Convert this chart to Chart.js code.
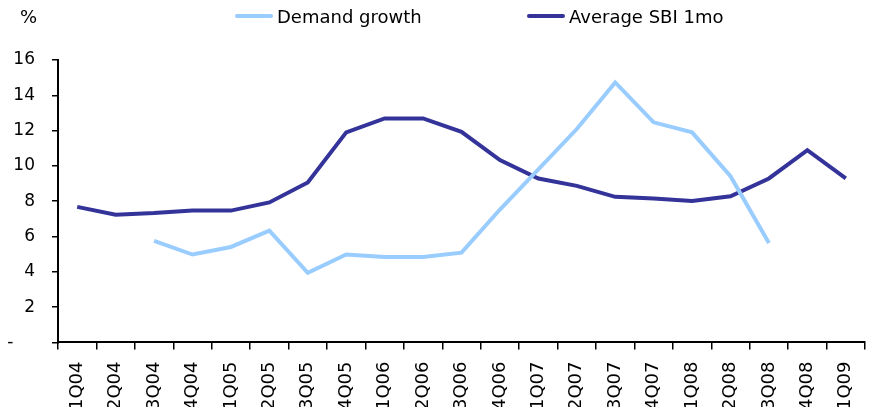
<!DOCTYPE html>
<html>
<head>
<meta charset="utf-8">
<script src="https://cdn.jsdelivr.net/npm/chart.js@4/dist/chart.umd.min.js"></script>
<style>
  html, body { margin: 0; padding: 0; background: #fff; overflow: hidden; }
  #wrap { position: relative; width: 873px; height: 422px; }
</style>
</head>
<body>
<div id="wrap"><canvas id="myChart"></canvas></div>
<script>
// data
const quarters = ['1Q04', '2Q04', '3Q04', '4Q04', '1Q05', '2Q05', '3Q05', '4Q05', '1Q06', '2Q06', '3Q06',
  '4Q06', '1Q07', '2Q07', '3Q07', '4Q07', '1Q08', '2Q08', '3Q08', '4Q08', '1Q09'];
const demandGrowth = [null, null, 5.75, 4.98, 5.41, 6.34, 3.95, 4.98, 4.84, 4.84, 5.09,
  7.53, 9.8, 12.09, 14.73, 12.47, 11.9, 9.42, 5.64, null, null];
const avgSbi = [7.68, 7.24, 7.33, 7.47, 7.47, 7.93, 9.06, 11.9, 12.69, 12.69, 11.93,
  10.33, 9.29, 8.87, 8.25, 8.15, 8.02, 8.28, 9.29, 10.89, 9.29];
const yTicks = [0, 2, 4, 6, 8, 10, 12, 14, 16];

const font = 'DejaVu Sans';
const lightBlue = '#99ccff';
const navy = '#333399';

// legend + unit label drawn by hand
const extras = {
  id: 'extras',
  afterDraw(chart) {
    const ctx = chart.ctx;
    ctx.save();
    ctx.fillStyle = '#000';
    ctx.font = '18px ' + font;
    ctx.textBaseline = 'middle';
    ctx.fillText('%', 20, 18);

    const items = [
      { x: 235, text: 'Demand growth', color: lightBlue },
      { x: 527, text: 'Average SBI 1mo', color: navy }
    ];
    items.forEach(it => {
      ctx.strokeStyle = it.color;
      ctx.lineWidth = 4;
      ctx.lineCap = 'round';
      ctx.beginPath();
      ctx.moveTo(it.x + 2, 16);
      ctx.lineTo(it.x + 36, 16);
      ctx.stroke();
      ctx.fillStyle = '#000';
      ctx.fillText(it.text, it.x + 42, 18);
    });
    ctx.restore();
  }
};

const data = {
  labels: quarters,
  datasets: [
    {
      label: 'Demand growth',
      data: demandGrowth,
      borderColor: lightBlue,
      backgroundColor: lightBlue,
      borderWidth: 4,
      pointRadius: 0,
      tension: 0,
      spanGaps: false
    },
    {
      label: 'Average SBI 1mo',
      data: avgSbi,
      borderColor: navy,
      backgroundColor: navy,
      borderWidth: 4,
      pointRadius: 0,
      tension: 0
    }
  ]
};

const config = {
  type: 'line',
  data,
  options: {
    responsive: true,
    maintainAspectRatio: false,
    animation: false,
    layout: { padding: { left: 0, right: 8, top: 60, bottom: 0 } },
    plugins: {
      legend: { display: false },
      tooltip: { enabled: false }
    },
    scales: {
      x: {
        offset: true,
        afterFit(axis) { axis.paddingLeft = 0; axis.paddingRight = 0; },
        grid: { offset: true, drawOnChartArea: false, drawTicks: true, tickLength: 7, color: '#000', lineWidth: 1.5 },
        border: { color: '#000', width: 2 },
        ticks: {
          color: '#000',
          font: { family: font, size: 18 },
          minRotation: 90,
          maxRotation: 90,
          padding: 12,
          autoSkip: false
        }
      },
      y: {
        min: 0,
        max: 16,
        afterBuildTicks(axis) { axis.ticks = yTicks.map(v => ({ value: v })); },
        afterFit(axis) { axis.width = 58; },
        grid: { drawOnChartArea: false, drawTicks: true, tickLength: 6, color: '#000', lineWidth: 1.5 },
        border: { color: '#000', width: 2 },
        ticks: {
          color: '#000',
          font: { family: font, size: 17 },
          padding: 17,
          callback: v => v === 0 ? '-    ' : String(v)
        }
      }
    }
  },
  plugins: [extras]
};

const myChart = new Chart(document.getElementById('myChart'), config);
</script>
</body>
</html>
